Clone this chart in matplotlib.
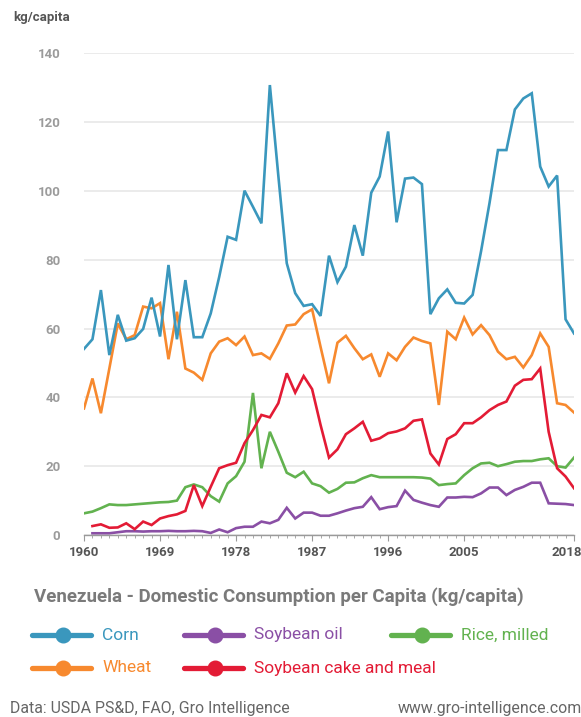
"""
Venezuela - domestic consumption per capita, 1960-2018.
"""

import matplotlib
matplotlib.use('Agg')
import matplotlib.pyplot as plt
import matplotlib.transforms as mtransforms
from matplotlib.lines import Line2D
import numpy as np

plt.rcParams['font.family'] = ['Roboto', 'DejaVu Sans']

years = np.arange(1960, 2019)
tick_years = [1960, 1969, 1978, 1987, 1996, 2005, 2018]
nan = np.nan

corn = [54.1, 56.9, 71.2, 52.3, 64.0, 56.5, 57.2, 59.9, 69.0, 57.7,
        78.5, 56.9, 74.1, 57.5, 57.5, 64.4, 75.0, 86.7, 85.8, 100.1,
        95.4, 90.6, 130.8, 104.5, 79.0, 70.3, 66.6, 67.1, 63.7, 81.2,
        73.5, 78.0, 90.1, 81.2, 99.5, 104.2, 117.3, 90.9, 103.6, 103.9,
        102.0, 64.2, 68.8, 71.4, 67.5, 67.3, 69.8, 82.5, 96.5, 111.9,
        111.9, 123.7, 126.9, 128.4, 107.1, 101.3, 104.5, 62.7, 58.6]

wheat = [36.8, 45.5, 35.4, 48.4, 61.5, 56.9, 58.1, 66.4, 65.9, 67.4,
         51.1, 64.9, 48.4, 47.2, 45.1, 52.8, 56.2, 57.2, 55.2, 57.7,
         52.3, 52.8, 51.2, 55.7, 60.9, 61.2, 64.2, 65.6, 54.7, 44.1,
         55.9, 57.9, 54.3, 51.1, 52.5, 46.0, 52.8, 50.8, 54.7, 57.4,
         56.4, 55.7, 37.8, 59.1, 56.9, 63.2, 58.3, 61.0, 58.1, 53.3,
         51.1, 51.8, 48.7, 52.3, 58.6, 54.7, 38.3, 37.8, 35.6]

soybean_oil = [nan, 0.5, 0.5, 0.5, 0.8, 1.1, 1.1, 1.0, 1.1, 1.1,
               1.2, 1.1, 1.1, 1.2, 1.1, 0.6, 1.6, 0.8, 2.0, 2.4,
               2.4, 3.9, 3.4, 4.4, 7.9, 4.8, 6.5, 6.5, 5.6, 5.6,
               6.3, 7.1, 7.8, 8.2, 11.0, 7.5, 8.1, 8.4, 12.9, 10.2,
               9.4, 8.7, 8.2, 10.9, 10.9, 11.1, 11.0, 12.1, 13.8, 13.8,
               11.6, 13.1, 14.0, 15.2, 15.2, 9.2, 9.1, 9.0, 8.7]

rice = [6.3, 6.8, 7.8, 8.9, 8.7, 8.7, 8.9, 9.1, 9.3, 9.5,
        9.6, 10.0, 13.9, 14.7, 13.9, 11.3, 9.7, 15.0, 17.1, 21.3,
        41.3, 19.4, 30.0, 24.2, 18.1, 16.8, 18.4, 15.0, 14.2, 12.3,
        13.4, 15.2, 15.3, 16.5, 17.4, 16.8, 16.8, 16.8, 16.8, 16.8,
        16.7, 16.4, 14.5, 14.8, 15.0, 17.4, 19.4, 20.8, 21.0, 20.0,
        20.6, 21.3, 21.5, 21.5, 22.0, 22.3, 20.0, 19.6, 22.5]

soy_cake = [nan, 2.6, 3.1, 2.1, 2.2, 3.4, 1.7, 3.9, 2.9, 4.8,
            5.5, 6.0, 7.0, 14.5, 8.4, 14.0, 19.4, 20.3, 21.0, 26.7,
            30.5, 34.9, 34.2, 38.3, 47.0, 41.4, 46.2, 42.4, 32.0, 22.5,
            24.9, 29.3, 31.0, 32.9, 27.4, 28.1, 29.6, 30.1, 31.0, 33.2,
            33.6, 23.7, 20.5, 27.9, 29.3, 32.5, 32.5, 34.2, 36.3, 37.8,
            38.8, 43.4, 45.1, 45.3, 48.4, 30.0, 19.4, 17.0, 13.6]

series = [
    ('Rice, milled', rice, '#62b24f'),
    ('Soybean oil', soybean_oil, '#8a4fa5'),
    ('Soybean cake and meal', soy_cake, '#e31b35'),
    ('Wheat', wheat, '#f7892e'),
    ('Corn', corn, '#3a97bd'),
]
colors = {name: c for name, _, c in series}

fig = plt.figure(figsize=(5.81, 7.17), dpi=100)
ax = fig.add_axes([84 / 581, 1 - 535 / 717, 490 / 581, 481.6 / 717])

for name, vals, c in series:
    ax.plot(years, vals, color=c, linewidth=1.9, solid_joinstyle='miter')

ax.set_xlim(1960, 2018)
ax.set_ylim(0, 140)
ax.set_xticks(tick_years)
ax.set_xticks(years, minor=True)
ax.set_yticks(np.arange(0, 141, 20))
ax.grid(axis='y', color='#e6e6e6', linewidth=1.1)
ax.set_axisbelow(True)
for s in ['top', 'right', 'left']:
    ax.spines[s].set_visible(False)
ax.spines['bottom'].set_color('#9a9a9a')
ax.spines['bottom'].set_linewidth(1.0)
ax.tick_params(axis='y', length=0, pad=17, labelsize=9.5, labelcolor='#9b9b9b')
ax.tick_params(axis='x', which='major', length=4, color='#9a9a9a', pad=4,
               labelsize=9.5, labelcolor='#555555')
ax.tick_params(axis='x', which='minor', length=2, color='#9a9a9a')
for lbl in ax.get_xticklabels() + ax.get_yticklabels():
    lbl.set_fontweight('bold')
# keep the last year label inside the figure
last = ax.get_xticklabels()[-1]
last.set_transform(last.get_transform() +
                   mtransforms.ScaledTranslation(-7 / 100, 0, fig.dpi_scale_trans))

fig.text(13 / 581, 1 - 17 / 717, 'kg/capita', fontsize=9.5, fontweight='bold',
         color='#555555', va='center', ha='left')

fig.text(34 / 581, 1 - 597 / 717,
         'Venezuela - Domestic Consumption per Capita (kg/capita)',
         fontsize=13.5, fontweight='bold', color='#7a7a7a', va='center', ha='left')

# legend drawn by hand (flow layout)
legend_items = [
    ('Corn', 32, 635),
    ('Soybean oil', 184, 635),
    ('Rice, milled', 391, 635),
    ('Wheat', 32, 668),
    ('Soybean cake and meal', 184, 668),
]
for name, x0, y0 in legend_items:
    c = colors[name]
    yf = 1 - y0 / 717
    fig.add_artist(Line2D([x0 / 581, (x0 + 59) / 581], [yf, yf],
                          transform=fig.transFigure, color=c, linewidth=3.8,
                          solid_capstyle='round'))
    fig.add_artist(Line2D([(x0 + 31) / 581], [yf], transform=fig.transFigure,
                          marker='o', markersize=10.5, color=c, linestyle='none'))
    fig.text((x0 + 70) / 581, yf, name, fontsize=12.5, color=c,
             va='center', ha='left')

fig.text(10 / 581, 1 - 708 / 717, 'Data: USDA PS&D, FAO, Gro Intelligence',
         fontsize=11.4, color='#666666', va='center', ha='left')
fig.text(398 / 581, 1 - 708 / 717, 'www.gro-intelligence.com',
         fontsize=11.4, color='#666666', va='center', ha='left')

plt.savefig('out.png', dpi=100)
